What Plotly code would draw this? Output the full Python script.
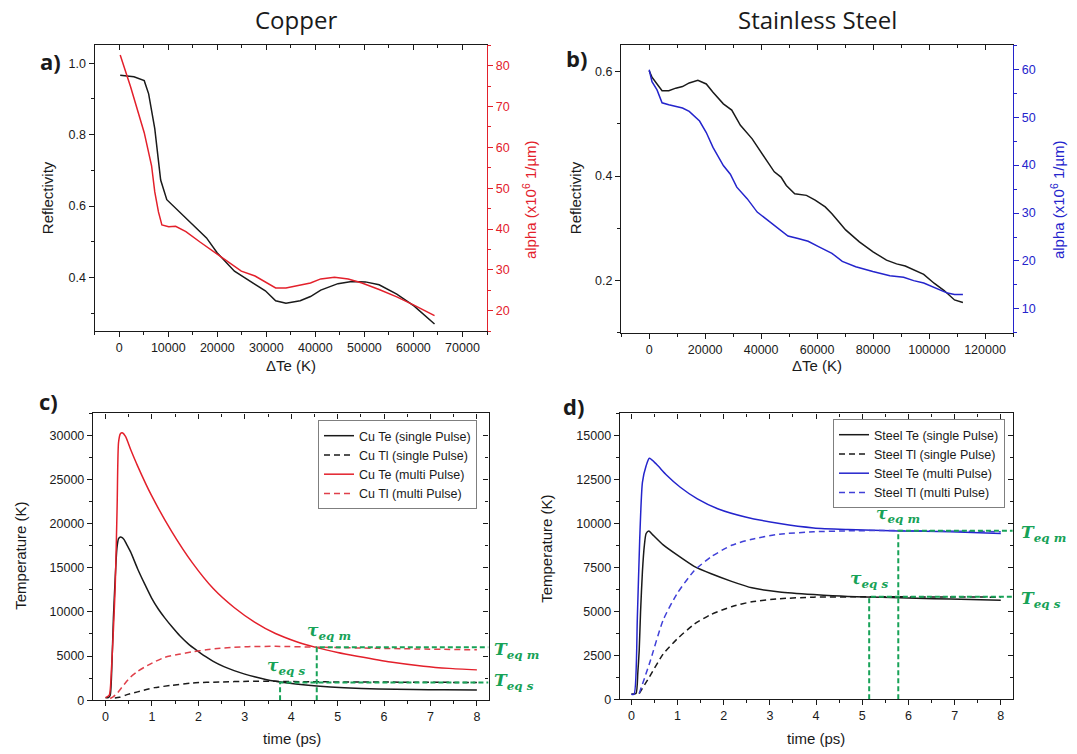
import plotly.graph_objects as go

# ---------------- data ----------------
# a) Copper: reflectivity and absorption vs electron temperature rise
cu_dte_R = [200, 3000, 5100, 6000, 7250, 8450, 9700, 12200, 15000, 17800, 20000, 23500, 27700,
            29800, 31900, 34000, 36900, 39000, 41100, 44600, 47400, 50200, 53000, 56600, 60100, 64300]
cu_R = [0.966, 0.962, 0.951, 0.914, 0.817, 0.673, 0.618, 0.585, 0.550, 0.511, 0.469, 0.418, 0.381,
        0.363, 0.335, 0.328, 0.335, 0.347, 0.365, 0.383, 0.389, 0.388, 0.380, 0.354, 0.321, 0.270]
cu_dte_a = [200, 2300, 5100, 6600, 7250, 8000, 8700, 10100, 11500, 13600, 16400, 19200, 22100, 24900,
            27700, 31900, 34000, 36900, 39000, 41100, 43900, 46700, 49500, 53000, 56600, 60100, 64300]
cu_alpha = [82.6, 74.9, 63.6, 55.5, 49.1, 44.2, 41.0, 40.6, 40.7, 39.4, 36.9, 34.5, 32.1, 29.7,
            28.5, 25.6, 25.6, 26.3, 26.8, 27.8, 28.2, 27.8, 26.8, 25.2, 23.4, 21.4, 18.8]

# b) Stainless steel
ss_dte_R = [0, 1000, 2800, 4600, 7000, 9500, 11900, 14300, 17400, 20400, 22800, 26500, 29500, 32600,
            36800, 39800, 42300, 44700, 47100, 49000, 52000, 56200, 59300, 62900, 65300, 67800, 70200,
            75100, 80000, 84800, 88400, 91500, 94500, 98100, 101800, 105400, 109100, 112100]
ss_R = [0.601, 0.589, 0.576, 0.563, 0.563, 0.568, 0.571, 0.578, 0.583, 0.576, 0.560, 0.538, 0.526, 0.497,
        0.471, 0.446, 0.427, 0.408, 0.398, 0.382, 0.366, 0.363, 0.354, 0.341, 0.328, 0.312, 0.297,
        0.274, 0.255, 0.239, 0.232, 0.228, 0.220, 0.212, 0.195, 0.181, 0.163, 0.158]
ss_dte_a = [0, 1000, 2800, 4600, 7000, 9500, 11900, 14300, 18000, 20400, 22800, 26500, 29000, 31300,
            35000, 38600, 42300, 46000, 49600, 53200, 56800, 60500, 65300, 69000, 73800, 79900, 86000,
            90900, 94500, 98100, 101800, 106600, 109100, 112100]
ss_alpha = [59.9, 57.4, 55.7, 53.0, 52.6, 52.3, 51.9, 51.2, 49.2, 46.8, 43.7, 39.9, 38.1, 35.4,
            33.0, 30.2, 28.5, 26.8, 25.2, 24.7, 24.1, 23.0, 21.6, 19.9, 18.8, 17.8, 16.9,
            16.6, 15.9, 15.4, 14.5, 13.3, 13.0, 13.0]

# c) Copper two-temperature model
cu_te_s_t = [0, 0.06, 0.1, 0.14, 0.17, 0.21, 0.245, 0.28, 0.32, 0.36, 0.40, 0.46, 0.54, 0.69, 0.84, 0.99,
             1.14, 1.28, 1.45, 1.60, 1.80, 1.95, 2.15, 2.32, 2.55, 2.77, 3.0, 3.21, 3.45, 3.66, 4.10,
             4.55, 5.14, 5.88, 6.63, 7.30, 8.0]
cu_te_s = [280, 300, 560, 4500, 9350, 14000, 17200, 18300, 18500, 18420, 18200, 17600, 16800, 14900, 13200,
           11600, 10300, 9300, 8200, 7300, 6300, 5700, 4950, 4400, 3800, 3350, 2950, 2650, 2350, 2150,
           1830, 1600, 1400, 1270, 1200, 1170, 1150]
cu_tl_s_t = [0.2, 0.3, 0.45, 0.69, 0.88, 1.06, 1.43, 1.88, 2.47, 3.07, 3.66, 4.40, 5.50, 8.0]
cu_tl_s = [250, 330, 600, 935, 1200, 1420, 1680, 1950, 2060, 2130, 2130, 2080, 2060, 2000]
cu_te_m_t = [0, 0.08, 0.13, 0.17, 0.21, 0.25, 0.28, 0.32, 0.36, 0.43, 0.55, 0.69, 0.99, 1.43, 1.88, 2.32,
             2.77, 3.21, 3.66, 4.10, 4.55, 5.0, 5.42, 6.14, 6.85, 7.40, 8.0]
cu_te_m = [280, 560, 3740, 8000, 13100, 22000, 29200, 30200, 30300, 29900, 28300, 26560, 23200, 19080,
           15500, 12650, 10500, 8850, 7550, 6650, 5950, 5400, 4980, 4320, 3850, 3600, 3430]
cu_tl_m_t = [0.1, 0.17, 0.245, 0.39, 0.54, 0.69, 0.84, 1.06, 1.28, 1.58, 1.88, 2.17, 2.47, 2.77, 3.07,
             3.66, 4.55, 5.88, 8.0]
cu_tl_m = [190, 400, 750, 1700, 2620, 3250, 3740, 4350, 4860, 5200, 5480, 5700, 5880, 5990, 6060,
           6100, 6000, 5870, 5700]
cu_tau_s, cu_T_s = 3.76, 2000
cu_tau_m, cu_T_m = 4.55, 6000

# d) Stainless steel two-temperature model
ss_te_s_t = [0, 0.1, 0.14, 0.17, 0.2, 0.24, 0.28, 0.32, 0.38, 0.47, 0.69, 0.99, 1.36, 1.73, 2.17, 2.61,
             3.21, 3.95, 4.69, 5.43, 6.17, 6.91, 8.0]
ss_te_s = [300, 320, 1500, 2760, 5000, 7260, 8700, 9420, 9570, 9330, 8770, 8200, 7550, 7130, 6700, 6330,
           6100, 5950, 5840, 5790, 5740, 5690, 5620]
ss_tl_s_t = [0.17, 0.39, 0.69, 0.99, 1.36, 1.73, 2.17, 2.61, 3.21, 3.95, 5.13, 8.0]
ss_tl_s = [320, 1260, 2570, 3420, 4260, 4820, 5260, 5540, 5710, 5800, 5820, 5800]
ss_te_m_t = [0, 0.06, 0.13, 0.18, 0.24, 0.32, 0.39, 0.54, 0.76, 1.06, 1.43, 1.87, 2.47, 3.21, 3.95,
             4.69, 5.43, 5.78, 6.91, 8.0]
ss_te_m = [280, 280, 4640, 9000, 12330, 13270, 13700, 13370, 12750, 12050, 11390, 10830, 10360, 9990,
           9740, 9650, 9590, 9570, 9520, 9420]
ss_tl_m_t = [0.17, 0.39, 0.69, 0.99, 1.36, 1.73, 2.17, 2.61, 3.21, 3.95, 4.69, 5.43, 6.5, 8.0]
ss_tl_m = [320, 2010, 4500, 6000, 7300, 8100, 8750, 9100, 9380, 9520, 9570, 9590, 9570, 9520]
ss_tau_s, ss_T_s = 5.15, 5820
ss_tau_m, ss_T_m = 5.78, 9575

# ---------------- style ----------------
W, H = 1077, 754
BLACK = "#1a1a1a"
RED = "#E3202B"
BLUE = "#2424CC"
GREEN = "#17A257"
SANS = "Liberation Sans, Arial, sans-serif"
TITLEF = "Open Sans, sans-serif"
SERIF = "DejaVu Serif, Liberation Serif, serif"


def fx(p):
    return p / W


def fy(p):
    return 1 - p / H


fig = go.Figure()
dash = "6px,4px"

# a)
fig.add_trace(go.Scatter(x=cu_dte_R, y=cu_R, xaxis="x", yaxis="y", mode="lines",
                         line=dict(color=BLACK, width=1.5), showlegend=False))
fig.add_trace(go.Scatter(x=cu_dte_a, y=cu_alpha, xaxis="x", yaxis="y2", mode="lines",
                         line=dict(color=RED, width=1.5), showlegend=False))
# b)
fig.add_trace(go.Scatter(x=ss_dte_R, y=ss_R, xaxis="x2", yaxis="y3", mode="lines",
                         line=dict(color=BLACK, width=1.5), showlegend=False))
fig.add_trace(go.Scatter(x=ss_dte_a, y=ss_alpha, xaxis="x2", yaxis="y4", mode="lines",
                         line=dict(color=BLUE, width=1.5), showlegend=False))

# c)
c_series = [
    (cu_te_s_t, cu_te_s, "Cu Te (single Pulse)", BLACK, "solid"),
    (cu_tl_s_t, cu_tl_s, "Cu Tl (single Pulse)", BLACK, dash),
    (cu_te_m_t, cu_te_m, "Cu Te (multi Pulse)", RED, "solid"),
    (cu_tl_m_t, cu_tl_m, "Cu Tl (multi Pulse)", "#E0404A", dash),
]
for t, T, name, col, ds in c_series:
    fig.add_trace(go.Scatter(x=t, y=T, xaxis="x3", yaxis="y5", mode="lines", name=name,
                             line=dict(color=col, width=1.5, dash=ds, shape="spline", smoothing=0.6),
                             legend="legend"))
# d)
d_series = [
    (ss_te_s_t, ss_te_s, "Steel Te (single Pulse)", BLACK, "solid"),
    (ss_tl_s_t, ss_tl_s, "Steel Tl (single Pulse)", BLACK, dash),
    (ss_te_m_t, ss_te_m, "Steel Te (multi Pulse)", BLUE, "solid"),
    (ss_tl_m_t, ss_tl_m, "Steel Tl (multi Pulse)", "#4040D8", dash),
]
for t, T, name, col, ds in d_series:
    fig.add_trace(go.Scatter(x=t, y=T, xaxis="x4", yaxis="y6", mode="lines", name=name,
                             line=dict(color=col, width=1.5, dash=ds, shape="spline", smoothing=0.6),
                             legend="legend2"))

# green equilibrium markers
C_XMAX, D_XMAX = 8.25, 8.26
for tau, Teq, xa, ya, xmax in [(cu_tau_s, cu_T_s, "x3", "y5", C_XMAX), (cu_tau_m, cu_T_m, "x3", "y5", C_XMAX),
                               (ss_tau_s, ss_T_s, "x4", "y6", D_XMAX), (ss_tau_m, ss_T_m, "x4", "y6", D_XMAX)]:
    fig.add_trace(go.Scatter(x=[tau, tau, xmax], y=[0, Teq, Teq], xaxis=xa, yaxis=ya, mode="lines",
                             line=dict(color=GREEN, width=2, dash="5px,3px"), showlegend=False,
                             hoverinfo="skip"))

# ---------------- axes ----------------
a_xr, a_yr, a_y2r = [-5000, 75000], [0.25, 1.05], [15, 85]
b_xr, b_yr, b_y2r = [-10000, 130000], [0.1, 0.65], [5, 65]
c_xr, c_yr = [-0.27, C_XMAX], [0, 32500]
d_xr, d_yr = [-0.25, D_XMAX], [0, 16250]

# invisible helpers so the frame (top / right) tick axes get drawn
for xa, ya, xr, yr in [("x9", "y", a_xr, a_yr), ("x10", "y3", b_xr, b_yr), ("x11", "y5", c_xr, c_yr),
                       ("x12", "y6", d_xr, d_yr), ("x3", "y7", c_xr, c_yr), ("x4", "y8", d_xr, d_yr)]:
    fig.add_trace(go.Scatter(x=[sum(xr) / 2], y=[sum(yr) / 2], xaxis=xa, yaxis=ya, mode="markers",
                             marker=dict(opacity=0, size=1), showlegend=False, hoverinfo="skip"))


def axis(domain, rng, dtick, mdtick, anchor, fmt, side=None, color=BLACK, ticks="outside",
         labels=True, overlaying=None, mirror=False):
    d = dict(range=rng, anchor=anchor, showline=True, linecolor=color, linewidth=1.4, mirror=mirror,
             ticks=ticks, ticklen=5, tickwidth=1.2, tickcolor=color, dtick=dtick, tick0=0,
             minor=dict(dtick=mdtick, tick0=0, ticks=ticks, ticklen=3, tickwidth=1, tickcolor=color),
             showgrid=False, zeroline=False, tickfont=dict(family=SANS, size=12.5, color=color),
             tickformat=fmt, showticklabels=labels, fixedrange=True, visible=True)
    if domain is not None:
        d["domain"] = domain
    if side:
        d["side"] = side
    if overlaying:
        d["overlaying"] = overlaying
    return d


ax_dom = [fx(94.7), fx(487.0)]
ay_dom = [fy(334.3), fy(45.7)]
bx_dom = [fx(621.2), fx(1013.0)]
by_dom = [fy(336.0), fy(45.7)]
cx_dom = [fx(93.0), fx(488.5)]
cy_dom = [fy(706.7), fy(417.3)]
dx_dom = [fx(619.8), fx(1012.8)]
dy_dom = [fy(705.7), fy(417.3)]

layout_axes = dict(
    xaxis=axis(ax_dom, a_xr, 10000, 5000, "y", "d", mirror=True),
    yaxis=axis(ay_dom, a_yr, 0.2, 0.1, "x", ".1f"),
    yaxis2=axis(None, a_y2r, 10, 5, "x", "d", side="right", color=RED, overlaying="y"),
    xaxis2=axis(bx_dom, b_xr, 20000, 10000, "y3", "d", mirror=True),
    yaxis3=axis(by_dom, b_yr, 0.2, 0.1, "x2", ".1f"),
    yaxis4=axis(None, b_y2r, 10, 5, "x2", "d", side="right", color=BLUE, overlaying="y3"),
    xaxis3=axis(cx_dom, c_xr, 1, 0.5, "y5", "d", mirror=True),
    yaxis5=axis(cy_dom, c_yr, 5000, 2500, "x3", "d", mirror=True),
    xaxis4=axis(dx_dom, d_xr, 1, 0.5, "y6", "d", mirror=True),
    yaxis6=axis(dy_dom, d_yr, 2500, 1250, "x4", "d", mirror=True),
    # frame overlays (inner ticks on top / right)
    xaxis9=axis(None, a_xr, 10000, 5000, "y", "d", side="top", ticks="inside", labels=False, overlaying="x"),
    xaxis10=axis(None, b_xr, 20000, 10000, "y3", "d", side="top", ticks="inside", labels=False, overlaying="x2"),
    xaxis11=axis(None, c_xr, 1, 0.5, "y5", "d", side="top", ticks="inside", labels=False, overlaying="x3"),
    xaxis12=axis(None, d_xr, 1, 0.5, "y6", "d", side="top", ticks="inside", labels=False, overlaying="x4"),
    yaxis7=axis(None, c_yr, 5000, 2500, "x3", "d", side="right", ticks="inside", labels=False, overlaying="y5"),
    yaxis8=axis(None, d_yr, 2500, 1250, "x4", "d", side="right", ticks="inside", labels=False, overlaying="y6"),
)

# ---------------- annotations ----------------
ann = []


def text(x, y, s, size, family=SANS, color=BLACK, angle=0, xanchor="center", yanchor="middle"):
    ann.append(dict(x=fx(x), y=fy(y), xref="paper", yref="paper", text=s, showarrow=False,
                    font=dict(family=family, size=size, color=color), textangle=angle,
                    xanchor=xanchor, yanchor=yanchor))


text(296, 20, "Copper", 24, TITLEF)
text(817, 20, "Stainless Steel", 24, TITLEF)
text(50, 62, "<b>a)</b>", 22, TITLEF)
text(576, 59, "<b>b)</b>", 22, TITLEF)
text(48, 405, "<b>c)</b>", 22, TITLEF)
text(573, 410, "<b>d)</b>", 22, TITLEF)

text(47, 200, "Reflectivity", 15, angle=-90)
text(529, 202, "alpha (x10<sup>6</sup> 1/µm)", 15, color=RED, angle=-90)
text(291, 369, "ΔTe (K)", 15)
text(575, 200, "Reflectivity", 15, angle=-90)
text(1057, 202, "alpha (x10<sup>6</sup> 1/µm)", 15, color=BLUE, angle=-90)
text(817, 369, "ΔTe (K)", 15)
text(21, 561, "Temperature (K)", 15, angle=-90)
text(292, 745, "time (ps)", 15)
text(547, 554, "Temperature (K)", 15, angle=-90)
text(816, 745, "time (ps)", 15)

TAU = 17
text(329, 637, "<b><i>τ<sub>eq m</sub></i></b>", TAU, SERIF, GREEN)
text(286, 673, "<b><i>τ<sub>eq s</sub></i></b>", TAU, SERIF, GREEN)
text(492, 657, "<b><i>T<sub>eq m</sub></i></b>", TAU, SERIF, GREEN, xanchor="left")
text(492, 688, "<b><i>T<sub>eq s</sub></i></b>", TAU, SERIF, GREEN, xanchor="left")
text(898, 519, "<b><i>τ<sub>eq m</sub></i></b>", TAU, SERIF, GREEN)
text(869, 585, "<b><i>τ<sub>eq s</sub></i></b>", TAU, SERIF, GREEN)
text(1019, 538, "<b><i>T<sub>eq m</sub></i></b>", TAU, SERIF, GREEN, xanchor="left")
text(1019, 605, "<b><i>T<sub>eq s</sub></i></b>", TAU, SERIF, GREEN, xanchor="left")

leg = dict(xanchor="left", yanchor="top", bordercolor="#7f7f7f", borderwidth=1, bgcolor="white",
           font=dict(family=SANS, size=12.5, color=BLACK), tracegroupgap=0, itemwidth=30)

fig.update_layout(
    width=W, height=H, margin=dict(l=0, r=0, t=0, b=0, pad=0),
    paper_bgcolor="white", plot_bgcolor="white",
    font=dict(family=SANS, size=13, color=BLACK),
    showlegend=True,
    legend=dict(leg, x=fx(318), y=fy(424)),
    legend2=dict(leg, x=fx(833), y=fy(423)),
    annotations=ann,
    **layout_axes,
)

fig.write_html("out.html", config={"displayModeBar": False},
               post_script="document.body.style.margin='0';document.body.style.overflow='hidden';")
